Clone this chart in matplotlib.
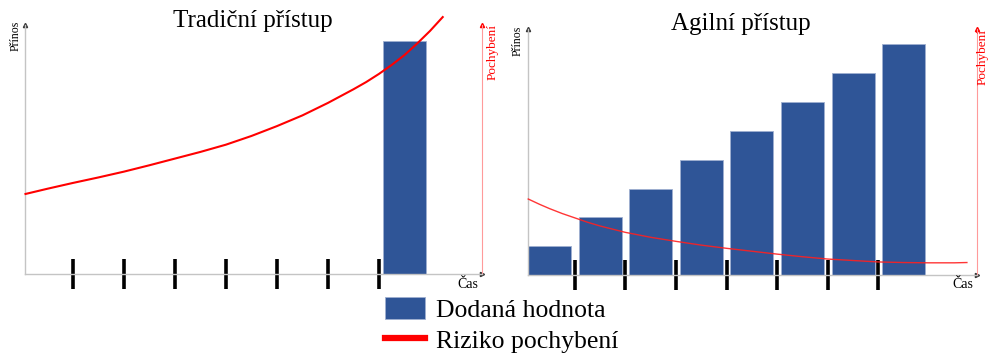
import matplotlib
matplotlib.use("Agg")
import matplotlib.pyplot as plt
from matplotlib.patches import Patch
from matplotlib.lines import Line2D

plt.rcParams['font.family'] = ['Liberation Serif', 'DejaVu Serif']

# ---- data ----
titles = ["Tradiční přístup", "Agilní přístup"]
y_label = "Přínos"
y2_label = "Pochybení"
x_label = "Čas"
legend_labels = ["Dodaná hodnota", "Riziko pochybení"]

tick_positions = [0.5, 1.5, 2.5, 3.5, 4.5, 5.5, 6.5]

# Traditional: one delivery at the end
trad_bar_x = [7]
trad_bar_h = [8.03]
trad_risk_x = [-0.43, 0.0, 0.5, 1.0, 1.5, 2.0, 2.5, 3.0, 3.5, 4.0, 4.5, 5.0, 5.5,
               6.0, 6.25, 6.5, 6.75, 7.0, 7.25, 7.5, 7.75]
trad_risk_y = [2.76, 2.94, 3.14, 3.33, 3.53, 3.75, 3.98, 4.21, 4.46, 4.76, 5.1, 5.47, 5.9,
               6.37, 6.62, 6.9, 7.21, 7.55, 7.95, 8.38, 8.86]

# Agile: incremental deliveries
agile_bar_x = [0, 1, 2, 3, 4, 5, 6, 7]
agile_bar_h = [1, 2, 2.97, 3.97, 4.97, 5.97, 6.97, 7.97]
agile_risk_x = [-0.42, -0.2, 0.0, 0.25, 0.5, 0.75, 1.0, 1.5, 2.0, 2.5, 3.0, 3.5, 4.0,
                4.5, 5.0, 5.5, 6.0, 6.5, 7.0, 7.5, 8.0, 8.25]
agile_risk_y = [2.62, 2.44, 2.29, 2.12, 1.97, 1.82, 1.69, 1.47, 1.3, 1.16, 1.03, 0.92, 0.82,
                0.72, 0.63, 0.55, 0.5, 0.45, 0.43, 0.42, 0.42, 0.43]

BAR_COLOR = "#2f5597"
RED = "#ff0000"

W, H = 989, 356
fig = plt.figure(figsize=(W / 100, H / 100), dpi=100)


def fx(px):
    return px / W


def fy(py):
    return 1 - py / H


def setup(ax, xlim, ylim):
    ax.set_xlim(*xlim)
    ax.set_ylim(*ylim)
    ax.spines["top"].set_visible(False)
    ax.spines["left"].set_color("#c4c4c4")
    ax.spines["bottom"].set_color("#c4c4c4")
    ax.spines["left"].set_linewidth(1.0)
    ax.spines["bottom"].set_linewidth(1.0)
    ax.spines["right"].set_color("#ff9a9a")
    ax.spines["right"].set_linewidth(0.8)
    ax.set_yticks([])
    ax.set_xticks(tick_positions)
    ax.tick_params(axis="x", direction="inout", length=22, width=2.6,
                   color="black", labelbottom=False)
    ax.patch.set_visible(False)
    # arrowheads
    ax.plot([0], [1], marker="^", ms=3, color="#333333", transform=ax.transAxes, clip_on=False)
    ax.plot([1], [0], marker=">", ms=3, color="#333333", transform=ax.transAxes, clip_on=False)
    ax.plot([1], [1], marker="^", ms=3, color=RED, transform=ax.transAxes, clip_on=False)


# Left panel
ax1 = fig.add_axes([fx(25), 1 - 274 / H, (482 - 25) / W, (274 - 25) / H])
setup(ax1, (-0.44, 8.52), (0, 249 / 29))
ax1.bar(trad_bar_x, trad_bar_h, width=0.85, color=BAR_COLOR,
        edgecolor="#9fb0d0", linewidth=0.6, zorder=2)
ax1.plot(trad_risk_x, trad_risk_y, color=RED, lw=1.5, zorder=3, clip_on=False,
         solid_joinstyle="round")

# Right panel
ax2 = fig.add_axes([fx(528), 1 - 275 / H, (977 - 528) / W, (275 - 29) / H])
setup(ax2, (-0.425, 8.45), (0, 246 / 29))
ax2.bar(agile_bar_x, agile_bar_h, width=0.85, color=BAR_COLOR,
        edgecolor="#9fb0d0", linewidth=0.6, zorder=2)
ax2.plot(agile_risk_x, agile_risk_y, color="#ff2020", lw=1.0, alpha=0.9, zorder=3,
         clip_on=False, solid_joinstyle="round")

# Titles
fig.text(fx(253), fy(21), titles[0], ha="center", va="center", fontsize=18)
fig.text(fx(741), fy(24), titles[1], ha="center", va="center", fontsize=18)

# Axis labels
fig.text(fx(16), fy(21), y_label, rotation=90, ha="center", va="top", fontsize=8.5)
fig.text(fx(518), fy(26), y_label, rotation=90, ha="center", va="top", fontsize=8.5)
fig.text(fx(493), fy(24), y2_label, rotation=90, ha="center", va="top", fontsize=9.5, color=RED)
fig.text(fx(983), fy(29), y2_label, rotation=90, ha="center", va="top", fontsize=9.5, color=RED)
fig.text(fx(468), fy(285), x_label, ha="center", va="center", fontsize=10)
fig.text(fx(963), fy(285), x_label, ha="center", va="center", fontsize=10)

# Legend
handles = [Patch(facecolor=BAR_COLOR, edgecolor="#9fb0d0", linewidth=0.6),
           Line2D([0], [0], color=RED, lw=4.5)]
fig.legend(handles, legend_labels, loc="upper left",
           bbox_to_anchor=(fx(385), fy(296.5)), frameon=False, fontsize=18.5,
           handlelength=1.55, handleheight=1.0, handletextpad=0.45,
           labelspacing=0.22, borderpad=0, borderaxespad=0)

fig.savefig("out.png", dpi=100)
